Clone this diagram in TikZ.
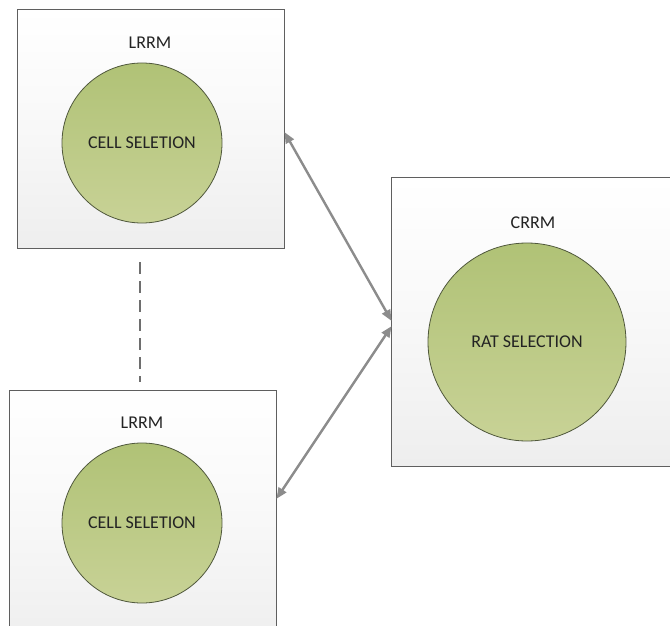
\documentclass[tikz,border=0pt]{standalone}
\usepackage{fontspec}
\setmainfont{Carlito}
\usetikzlibrary{arrows.meta}
\definecolor{boxline}{RGB}{95,95,95}
\definecolor{bandgray}{RGB}{238,238,238}
\definecolor{circtop}{RGB}{176,194,118}
\definecolor{circbot}{RGB}{200,210,150}
\definecolor{circline}{RGB}{80,88,60}
\definecolor{arrowgray}{RGB}{140,140,140}
\definecolor{txt}{RGB}{35,35,35}
\tikzset{
  box/.style={draw=boxline, line width=0.9pt, top color=white, bottom color=bandgray, middle color={rgb,255:red,248;green,248;blue,248}, shading angle=0, inner sep=0pt},
  bubble/.style={circle, draw=circline, line width=0.8pt, top color=circtop, bottom color=circbot, inner sep=0pt, text=txt, font=\fontsize{18}{20}\selectfont},
  title/.style={text=txt, font=\fontsize{18}{20}\selectfont, inner sep=0pt},
  link/.style={draw=arrowgray, line width=2.4pt, {Triangle[length=11pt,width=9pt]}-{Triangle[length=11pt,width=9pt]}, shorten <=-1pt, shorten >=-1pt},
  sep/.style={draw={rgb,255:red,110;green,110;blue,110}, line width=1.3pt, dash pattern=on 12pt off 7pt}
}
\begin{document}
\begin{tikzpicture}[x=1pt,y=-1pt]
\useasboundingbox (0,0) rectangle (670,626);
\clip (0,0) rectangle (670,626);
\fill[white] (0,0) rectangle (670,626);
% boxes
\node[box, minimum width=267pt, minimum height=239pt] (b1) at (150.5,128.5) {};
\node[box, minimum width=267pt, minimum height=260pt] (b2) at (142.5,520) {};
\node[box, minimum width=300pt, minimum height=289pt] (b3) at (541,321.5) {};
% titles
\node[title] (t1) at (150,43) {LRRM};
\node[title] (t2) at (142,423) {LRRM};
\node[title] (t3) at (533,223) {CRRM};
% circles
\node[bubble, minimum size=160pt] (c1) at (142,143) {CELL SELETION};
\node[bubble, minimum size=160pt] (c2) at (142,523) {CELL SELETION};
\node[bubble, minimum size=198pt] (c3) at (527,342) {RAT SELECTION};
% connector end points on box borders
\coordinate (p1) at (285,133);
\coordinate (q1) at (391,320);
\coordinate (q2) at (391,327);
\coordinate (p2) at (277,498);
\draw[link] (p1) -- (q1);
\draw[link] (q2) -- (p2);
% dashed separator
\coordinate (d1) at (140,262);
\coordinate (d2) at (140,382);
\draw[sep] (d1) -- (d2);
\end{tikzpicture}
\end{document}
